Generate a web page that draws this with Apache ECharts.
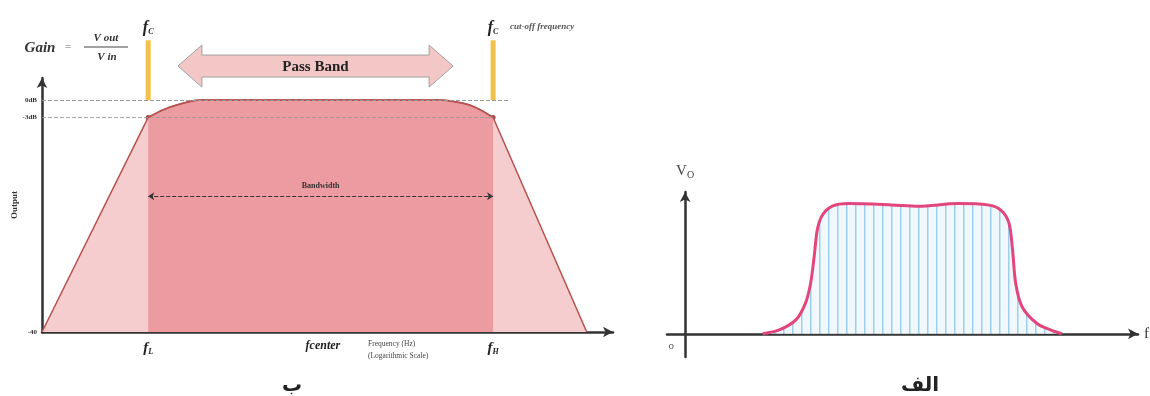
<!DOCTYPE html>
<html>
<head>
<meta charset="utf-8">
<script src="https://cdn.jsdelivr.net/npm/echarts@6/dist/echarts.min.js"></script>
<style>
  html, body { margin: 0; background: #fff; }
  #main { width: 1150px; height: 396px; }
</style>
</head>
<body>
<div id="main"></div>
<script>
// ب : band-pass response, x = frequency on a log scale (0..100), y = output in dB
const freqB = [0, 18.6, 20.7, 22.2, 23.6, 24.8, 25.9, 26.8, 27.7, 69.7, 71, 72.3, 73.6, 74.9, 76, 77.2, 79, 95.4];
const gainB = [-40, -3, -1.9, -1.3, -0.85, -0.5, -0.25, -0.08, 0, 0, -0.08, -0.3, -0.5, -0.85, -1.3, -1.9, -3, -40];
const cutoffB = [18.6, 79];          // fL, fH
const centerB = 49.2;                // fcenter
const yTicksB = [0, -3, -40];
const yTickNamesB = ['0dB', '-3dB', '-40'];
const xTicksB = [cutoffB[0], centerB, cutoffB[1]];
const xTickNamesB = ['{f|f}{s|L}', '{c|fcenter}', '{f|f}{s|H}'];

// الف : output voltage Vo against frequency f
const freqA = [17.1, 20.8, 24.5, 26.6, 27.7, 28.5, 29.2, 30.3, 32.5, 36.1, 45.6, 51.5, 60.2, 66.8, 69.7, 71.5, 72.3, 73, 74.4, 77.7, 81.4, 83.2];
const voA = [0, 0.03, 0.11, 0.24, 0.39, 0.6, 0.81, 0.92, 0.99, 1.01, 1.0, 0.99, 1.01, 1.0, 0.96, 0.86, 0.65, 0.39, 0.21, 0.08, 0.02, 0];

const serif = 'Liberation Serif';
const axisCol = '#333';

function pairs(xs, ys) {
  return xs.map((x, i) => [x, ys[i]]);
}

// nearest entry of a tick list, so float noise in the value does not matter
function tickName(ticks, names, v) {
  let best = 0;
  ticks.forEach((t, i) => { if (Math.abs(t - v) < Math.abs(ticks[best] - v)) best = i; });
  return names[best];
}

// striped fill for the pass band of الف
function stripes() {
  const c = document.createElement('canvas');
  c.width = 9; c.height = 4;
  const ctx = c.getContext('2d');
  ctx.fillStyle = '#f1f8fd';
  ctx.fillRect(0, 0, 9, 4);
  ctx.fillStyle = '#9ccfeb';
  ctx.fillRect(0, 0, 1.5, 4);
  return c;
}

const allB = pairs(freqB, gainB);
const innerB = allB.filter(d => d[0] >= cutoffB[0] && d[0] <= cutoffB[1]);

const option = {
  animation: false,
  grid: [
    { left: 42, right: 537, top: 78, bottom: 64 },
    { left: 667, right: 8, top: 192, bottom: 39 }
  ],
  xAxis: [
    {
      gridIndex: 0, type: 'value', min: 0, max: 100,
      splitLine: { show: false },
      axisLine: { onZero: false, lineStyle: { color: axisCol, width: 2.5 }, symbol: ['none', 'arrow'], symbolSize: [8, 10] },
      axisTick: { show: false },
      axisLabel: {
        customValues: xTicksB,
        showMinLabel: true, showMaxLabel: true,
        margin: 8,
        formatter: v => tickName(xTicksB, xTickNamesB, v),
        rich: {
          f: { fontFamily: serif, fontStyle: 'italic', fontWeight: 'bold', fontSize: 15, color: '#222' },
          s: { fontFamily: serif, fontStyle: 'italic', fontWeight: 'bold', fontSize: 8, color: '#222', padding: [8, 0, 0, 0] },
          c: { fontFamily: serif, fontStyle: 'italic', fontWeight: 'bold', fontSize: 12, color: '#222' }
        }
      }
    },
    {
      gridIndex: 1, type: 'value', min: -4, max: 100,
      splitLine: { show: false },
      axisLine: { lineStyle: { color: axisCol, width: 2.5 }, symbol: ['none', 'arrow'], symbolSize: [8, 10] },
      axisTick: { show: false },
      axisLabel: { show: false },
      name: 'f', nameLocation: 'end', nameGap: 6,
      nameTextStyle: { fontFamily: serif, fontSize: 15, color: '#333' }
    }
  ],
  yAxis: [
    {
      gridIndex: 0, type: 'value', min: -40, max: 3.8,
      splitLine: { show: false },
      axisLine: { onZero: false, lineStyle: { color: axisCol, width: 2.5 }, symbol: ['none', 'arrow'], symbolSize: [8, 10] },
      axisTick: { show: false },
      axisLabel: {
        customValues: yTicksB,
        margin: 5,
        formatter: v => tickName(yTicksB, yTickNamesB, v),
        fontFamily: serif, fontWeight: 'bold', fontSize: 7, color: '#333'
      },
      name: 'Output', nameLocation: 'middle', nameGap: 17, nameRotate: 90,
      nameTextStyle: { fontFamily: serif, fontWeight: 'bold', fontSize: 9, color: '#333' }
    },
    {
      gridIndex: 1, type: 'value', min: -0.18, max: 1.1,
      splitLine: { show: false },
      axisLine: { lineStyle: { color: axisCol, width: 2.5 }, symbol: ['none', 'arrow'], symbolSize: [8, 10] },
      axisTick: { show: false },
      axisLabel: { show: false },
      name: '{v|V}{o|O}', nameLocation: 'end', nameGap: 12,
      nameTextStyle: {
        rich: {
          v: { fontFamily: serif, fontSize: 15, color: '#444' },
          o: { fontFamily: serif, fontSize: 10, color: '#444', padding: [7, 0, 0, 0] }
        }
      }
    }
  ],
  series: [
    {
      type: 'line', xAxisIndex: 0, yAxisIndex: 0,
      data: allB, symbol: 'none',
      lineStyle: { color: '#b5524f', width: 1.5 },
      areaStyle: { color: '#f6cdcf', opacity: 1, origin: 'start' }
    },
    {
      type: 'line', xAxisIndex: 0, yAxisIndex: 0,
      data: innerB, symbol: 'none',
      lineStyle: { color: '#b5524f', width: 1.5 },
      areaStyle: { color: '#ec9ba0', opacity: 1, origin: 'start' }
    },
    {
      type: 'scatter', xAxisIndex: 0, yAxisIndex: 0,
      data: cutoffB.map(f => [f, -3]),
      symbolSize: 5, itemStyle: { color: '#8a1f1f' },
      markLine: {
        silent: true, symbol: 'none', label: { show: false },
        data: [
          [{ coord: [0, 0], lineStyle: { type: 'dashed', color: '#999', width: 1 } }, { coord: [82, 0] }],
          [{ coord: [0, -3], lineStyle: { type: 'dashed', color: '#999', width: 1, opacity: 0.8 } }, { coord: [cutoffB[1], -3] }],
          [
            {
              coord: [cutoffB[0], -16.6], symbol: 'arrow', symbolSize: 6,
              lineStyle: { type: 'dashed', color: '#333', width: 1 },
              label: {
                show: true, position: 'middle', distance: 6, formatter: 'Bandwidth',
                fontFamily: serif, fontWeight: 'bold', fontSize: 8, color: '#333'
              }
            },
            { coord: [cutoffB[1], -16.6], symbol: 'arrow', symbolSize: 6 }
          ]
        ]
      }
    },
    {
      type: 'line', xAxisIndex: 1, yAxisIndex: 1,
      data: pairs(freqA, voA), symbol: 'none', smooth: 0.3,
      lineStyle: { color: '#e2467d', width: 3 },
      areaStyle: { color: { image: stripes(), repeat: 'repeat' }, opacity: 1 }
    }
  ]
};

const chart = echarts.init(document.getElementById('main'));
chart.setOption(option);

const p0 = (x, y) => chart.convertToPixel({ gridIndex: 0 }, [x, y]);
const p1 = (x, y) => chart.convertToPixel({ gridIndex: 1 }, [x, y]);

const graphics = [];
const ital = { fontFamily: serif, fontStyle: 'italic', fontWeight: 'bold' };

// cut-off markers above the curve
cutoffB.forEach(f => {
  const top = p0(f, 10.3), base = p0(f, 0);
  graphics.push({
    type: 'rect', shape: { x: top[0] - 2.5, y: top[1], width: 5, height: base[1] - top[1] },
    style: { fill: '#f3c14a' }
  });
  const lab = p0(f, 12.4);
  graphics.push({
    type: 'text', x: lab[0], y: lab[1],
    style: {
      text: '{f|f}{s|C}', align: 'center', verticalAlign: 'middle',
      rich: {
        f: Object.assign({ fontSize: 16, fill: '#222' }, ital),
        s: Object.assign({ fontSize: 8, fill: '#222', padding: [8, 0, 0, 0] }, ital)
      }
    }
  });
});
const cut = p0(cutoffB[1], 12.7);
graphics.push({
  type: 'text', x: cut[0] + 17, y: cut[1],
  style: Object.assign({ text: 'cut-off frequency', fontSize: 9, fill: '#555', verticalAlign: 'middle' }, ital)
});

// Gain = Vout / Vin
graphics.push(
  { type: 'text', x: 40, y: 48, style: Object.assign({ text: 'Gain', fontSize: 15, fill: '#333', align: 'center', verticalAlign: 'middle' }, ital) },
  { type: 'text', x: 68, y: 47, style: { text: '=', fontFamily: serif, fontSize: 11, fill: '#666', align: 'center', verticalAlign: 'middle' } },
  { type: 'text', x: 106, y: 38, style: Object.assign({ text: 'V out', fontSize: 11, fill: '#333', align: 'center', verticalAlign: 'middle' }, ital) },
  { type: 'line', shape: { x1: 84, y1: 47, x2: 128, y2: 47 }, style: { stroke: '#444', lineWidth: 1 } },
  { type: 'text', x: 107, y: 57, style: Object.assign({ text: 'V in', fontSize: 11, fill: '#333', align: 'center', verticalAlign: 'middle' }, ital) }
);

// Pass Band double arrow
const pl = p0(23.8, 5.86), pr = p0(72, 5.86);
const cy = pl[1], xl = pl[0], xr = pr[0];
graphics.push({
  type: 'polygon',
  shape: {
    points: [
      [xl, cy], [xl + 24, cy - 21], [xl + 24, cy - 11], [xr - 24, cy - 11], [xr - 24, cy - 21],
      [xr, cy], [xr - 24, cy + 21], [xr - 24, cy + 11], [xl + 24, cy + 11], [xl + 24, cy + 21]
    ]
  },
  style: { fill: '#f4c7c7', stroke: '#a0a0a0', lineWidth: 1 }
});
graphics.push({
  type: 'text', x: (xl + xr) / 2, y: cy + 1,
  style: { text: 'Pass Band', fontFamily: serif, fontWeight: 'bold', fontSize: 15, fill: '#222', align: 'center', verticalAlign: 'middle' }
});

// axis caption of ب
const fq = p0(57.1, -40);
graphics.push({
  type: 'text', x: fq[0], y: fq[1] + 6,
  style: { text: 'Frequency (Hz)\n(Logarithmic Scale)', fontFamily: serif, fontSize: 7.5, lineHeight: 12, fill: '#444' }
});

// الف labels
const band = p1(52.5, 0.52);
graphics.push({
  type: 'text', x: band[0], y: band[1],
  style: { text: 'باند عبوری', fontFamily: 'DejaVu Sans', fontWeight: 'bold', fontSize: 11, fill: '#333', align: 'center', verticalAlign: 'middle' }
});
const orig = p1(-3.07, -0.093);
graphics.push({
  type: 'text', x: orig[0], y: orig[1],
  style: { text: 'o', fontFamily: serif, fontSize: 11, fill: '#555', align: 'center', verticalAlign: 'middle' }
});

// panel captions
graphics.push(
  { type: 'text', x: 292, y: 386, style: { text: 'ب', fontFamily: 'DejaVu Sans', fontWeight: 'bold', fontSize: 20, fill: '#222', align: 'center', verticalAlign: 'middle' } },
  { type: 'text', x: 920, y: 386, style: { text: 'الف', fontFamily: 'DejaVu Sans', fontWeight: 'bold', fontSize: 20, fill: '#222', align: 'center', verticalAlign: 'middle' } }
);

chart.setOption({ graphic: { elements: graphics } });
</script>
</body>
</html>
